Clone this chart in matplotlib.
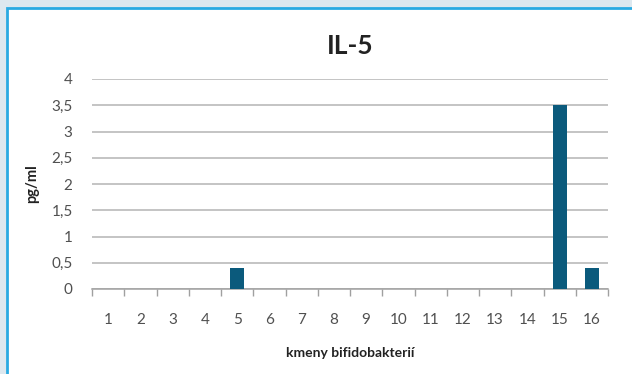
import numpy as np
import matplotlib.pyplot as plt
from matplotlib.patches import Rectangle
from matplotlib.ticker import FuncFormatter

# IL-5 concentrations per bifidobacteria strain
strains = [str(i) for i in range(1, 17)]
il5 = [0, 0, 0, 0, 0.4, 0, 0, 0, 0, 0, 0, 0, 0, 0, 3.5, 0.4]

plt.rcParams['font.family'] = ['Lato', 'DejaVu Sans']

W, H = 632, 374
fig = plt.figure(figsize=(W / 100, H / 100), dpi=100)
fig.patch.set_facecolor('#dde8ef')

# white panel with blue frame
fig.patches.append(Rectangle((7 / W, -0.05), 1.1, 1.05 - 8 / H,
                             transform=fig.transFigure, facecolor='white',
                             edgecolor='#2aaae2', linewidth=2, zorder=-10))

ax = fig.add_axes([92 / W, 1 - 289 / H, (608 - 92) / W, (289 - 79) / H])
ax.set_facecolor('none')
ax.set_zorder(5)

x = np.arange(len(strains))
ax.bar(x, il5, width=0.43, color='#0b5a7c', zorder=3)

ax.set_xlim(-0.5, len(strains) - 0.5)
ax.set_ylim(0, 4)
ax.set_yticks(np.arange(0, 4.01, 0.5))
ax.yaxis.set_major_formatter(FuncFormatter(lambda v, p: f'{v:g}'.replace('.', ',')))
ax.grid(axis='y', color='#b4b4b4', linewidth=1.1, zorder=0)
ax.set_axisbelow(True)

for s in ['top', 'right', 'left']:
    ax.spines[s].set_visible(False)
ax.spines['bottom'].set_color('#a0a0a0')
ax.spines['bottom'].set_linewidth(1.1)

ax.set_xticks(np.arange(-0.5, len(strains), 1.0))
ax.set_xticklabels([])
ax.tick_params(axis='x', length=5, color='#a0a0a0', width=1)
ax.set_xticks(x, minor=True)
ax.set_xticklabels(strains, minor=True)
ax.tick_params(axis='x', which='minor', length=0, pad=17, labelsize=11, labelcolor='#505050')
ax.tick_params(axis='y', length=0, pad=14, labelsize=11, labelcolor='#505050')

ax.set_xlabel('kmeny bifidobakterií', fontsize=10, fontweight='bold', labelpad=15, color='#222222')
ax.set_ylabel('pg/ml', fontsize=10.5, fontweight='bold', labelpad=9, color='#222222')
fig.text((92 + 608) / 2 / W, 1 - 46 / H, 'IL-5', ha='center', va='center',
         fontsize=19, fontweight='bold', color='#222222')

fig.savefig('out.png', dpi=100, facecolor=fig.get_facecolor())
